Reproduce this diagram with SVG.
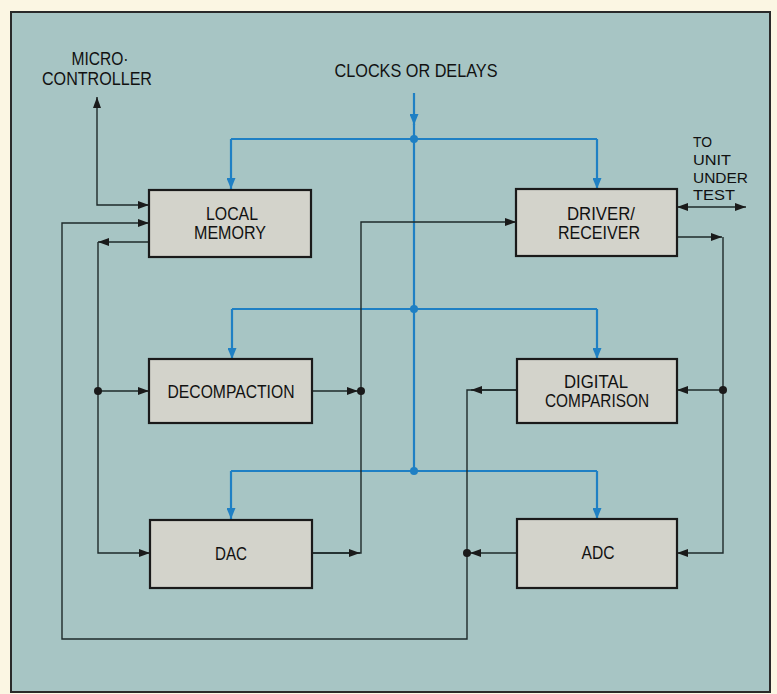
<svg xmlns="http://www.w3.org/2000/svg" width="777" height="694" viewBox="0 0 777 694">
<style>
.box{fill:#d3d3cb;stroke:#1a1a1a;stroke-width:2.2}
.t{font-family:"Liberation Sans",Arial,sans-serif;font-size:17.5px;fill:#111;text-anchor:middle}
.s{text-anchor:start;font-size:15.5px}
.k{fill:none;stroke:#1e2a2a;stroke-width:1.4}
.b{fill:none;stroke:#1f80c4;stroke-width:2.2}
.kd{fill:#1a1a1a}
.bd{fill:#1f80c4}
</style>
<defs>
<marker id="ak" markerUnits="userSpaceOnUse" markerWidth="11" markerHeight="8" refX="11" refY="4" orient="auto-start-reverse"><path d="M0,0 L11,4 L0,8 z" fill="#1a1a1a"/></marker>
<marker id="ab" markerUnits="userSpaceOnUse" markerWidth="11" markerHeight="9" refX="11" refY="4.5" orient="auto-start-reverse"><path d="M0,0 L11,4.5 L0,9 z" fill="#1f80c4"/></marker>
</defs>
<rect x="0" y="0" width="777" height="694" fill="#fbf6e3"/>
<rect x="11" y="12" width="759" height="680" fill="#a7c5c4" stroke="#2a2a2a" stroke-width="2"/>

<text class="t" x="100" y="65" textLength="57" lengthAdjust="spacingAndGlyphs">MICRO·</text>
<text class="t" x="97" y="85" textLength="110" lengthAdjust="spacingAndGlyphs">CONTROLLER</text>
<text class="t" x="416" y="77" textLength="163" lengthAdjust="spacingAndGlyphs">CLOCKS OR DELAYS</text>
<text class="t s" x="693" y="147" textLength="19" lengthAdjust="spacingAndGlyphs">TO</text>
<text class="t s" x="693" y="165" textLength="38" lengthAdjust="spacingAndGlyphs">UNIT</text>
<text class="t s" x="693" y="183" textLength="55" lengthAdjust="spacingAndGlyphs">UNDER</text>
<text class="t s" x="693" y="200" textLength="42" lengthAdjust="spacingAndGlyphs">TEST</text>

<g id="connectors">
<g id="clock-bus">
<path class="b" d="M414,93 V125" marker-end="url(#ab)"/>
<path class="b" d="M414,124 V471"/>
<path class="b" d="M231,139 H597"/>
<path class="b" d="M231,139 V189" marker-end="url(#ab)"/>
<path class="b" d="M597,139 V189" marker-end="url(#ab)"/>
<path class="b" d="M232,309 H597"/>
<path class="b" d="M232,309 V359" marker-end="url(#ab)"/>
<path class="b" d="M597,309 V359" marker-end="url(#ab)"/>
<path class="b" d="M231,471 H597"/>
<path class="b" d="M231,471 V519" marker-end="url(#ab)"/>
<path class="b" d="M597,471 V519" marker-end="url(#ab)"/>
<circle class="bd" cx="414" cy="139" r="4"/>
<circle class="bd" cx="414" cy="309" r="4"/>
<circle class="bd" cx="414" cy="471" r="4"/>
</g>
<path class="k" d="M97,97 V205 H149" marker-start="url(#ak)" marker-end="url(#ak)"/>
<path class="k" d="M517,390 H467 V639 H62 V223 H149" marker-end="url(#ak)"/>
<path class="k" d="M517,390 H471" marker-end="url(#ak)"/>
<path class="k" d="M149,242 H98" marker-end="url(#ak)"/>
<path class="k" d="M98,242 V553 H150" marker-end="url(#ak)"/>
<path class="k" d="M98,391 H149" marker-end="url(#ak)"/>
<path class="k" d="M312,391 H358" marker-end="url(#ak)"/>
<path class="k" d="M312,553 H361 V222 H516" marker-end="url(#ak)"/>
<path class="k" d="M312,553 H360" marker-end="url(#ak)"/>
<path class="k" d="M677,237 H722" marker-end="url(#ak)"/>
<path class="k" d="M723,237 V553 H677" marker-end="url(#ak)"/>
<path class="k" d="M723,390 H677" marker-end="url(#ak)"/>
<path class="k" d="M677,207 H746" marker-start="url(#ak)" marker-end="url(#ak)"/>
<path class="k" d="M517,553 H470" marker-end="url(#ak)"/>
<circle class="kd" cx="98" cy="391" r="4"/>
<circle class="kd" cx="361" cy="391" r="4"/>
<circle class="kd" cx="723" cy="390" r="4"/>
<circle class="kd" cx="467" cy="553" r="4"/>
</g>

<g id="local-memory">
<rect class="box" x="149" y="190" width="162" height="67"/>
<text class="t" x="232" y="220" textLength="52" lengthAdjust="spacingAndGlyphs">LOCAL</text>
<text class="t" x="230" y="239" textLength="72" lengthAdjust="spacingAndGlyphs">MEMORY</text>
</g>
<g id="driver-receiver">
<rect class="box" x="516" y="189" width="161" height="67"/>
<text class="t" x="601" y="220" textLength="68" lengthAdjust="spacingAndGlyphs">DRIVER/</text>
<text class="t" x="599" y="239" textLength="82" lengthAdjust="spacingAndGlyphs">RECEIVER</text>
</g>
<g id="decompaction">
<rect class="box" x="149" y="359" width="163" height="64"/>
<text class="t" x="231" y="398" textLength="127" lengthAdjust="spacingAndGlyphs">DECOMPACTION</text>
</g>
<g id="digital-comparison">
<rect class="box" x="517" y="359" width="160" height="64"/>
<text class="t" x="596" y="388" textLength="64" lengthAdjust="spacingAndGlyphs">DIGITAL</text>
<text class="t" x="597" y="407" textLength="104" lengthAdjust="spacingAndGlyphs">COMPARISON</text>
</g>
<g id="dac">
<rect class="box" x="150" y="520" width="162" height="68"/>
<text class="t" x="231" y="560" textLength="32" lengthAdjust="spacingAndGlyphs">DAC</text>
</g>
<g id="adc">
<rect class="box" x="517" y="519" width="160" height="69"/>
<text class="t" x="598" y="559" textLength="33" lengthAdjust="spacingAndGlyphs">ADC</text>
</g>
</svg>
